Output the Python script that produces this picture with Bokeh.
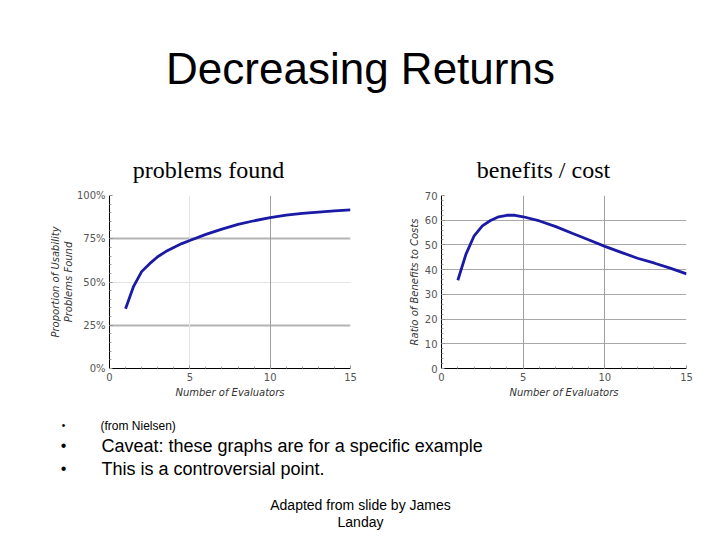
from bokeh.plotting import figure
from bokeh.layouts import column, row
from bokeh.models import Range1d, FixedTicker, Grid, Label
from bokeh.embed import file_html
from bokeh.resources import INLINE

# slide texts
title_text = "Decreasing Returns"
subtitles = ["problems found", "benefits / cost"]
small_note = "(from Nielsen)"
bullets = ["Caveat: these  graphs are for a specific example",
           "This is a controversial point."]
footer = ["Adapted from slide by James", "Landay"]

# chart data
evaluators = [1, 1.5, 2, 2.5, 3, 3.5, 4, 4.5, 5, 6, 7, 8, 9, 10, 11, 12, 13, 14, 15]
found_pct = [34.5, 47.5, 56, 60.6, 64.6, 67.6, 70, 72.2, 74, 77.5, 80.6, 83.3,
             85.4, 87.2, 88.6, 89.7, 90.4, 91.1, 91.7]
benefit_ratio = [35.7, 46.3, 53.7, 57.7, 59.9, 61.4, 62.0, 62.0, 61.4, 59.7,
                 57.4, 54.7, 52.1, 49.4, 47.0, 44.6, 42.7, 40.6, 38.3]

x_ticks = [0, 5, 10, 15]
pct_ticks = [0, 25, 50, 75, 100]
pct_labels = ["0%", "25%", "50%", "75%", "100%"]
ratio_ticks = [0, 10, 20, 30, 40, 50, 60, 70]

LINE = "#1a1aa4"
TICKFONT = "DejaVu Sans"


def text_panel(w, h, top, bottom):
    # pixel-like coordinates so slide text lines up with the reference
    p = figure(width=w, height=h, output_backend="svg", toolbar_location=None,
               x_range=Range1d(0, w), y_range=Range1d(bottom, top),
               min_border=0, outline_line_color=None)
    p.axis.visible = False
    p.grid.visible = False
    return p


def add_text(p, x, y, s, size, font="Liberation Sans", align="left"):
    p.add_layout(Label(x=x, y=y, text=s, text_font=font, text_font_size=size,
                       text_align=align, text_baseline="middle",
                       text_color="black"))


def style_chart(p, ylabel, ystandoff):
    p.xgrid.visible = False
    p.ygrid.visible = False
    p.outline_line_color = None
    for ax in (p.xaxis[0], p.yaxis[0]):
        ax.axis_line_color = "black"
        ax.major_tick_out = 0
        ax.major_tick_in = 3
        ax.major_tick_line_color = "#808080"
        ax.minor_tick_out = 0
        ax.minor_tick_in = 2
        ax.minor_tick_line_color = "#a0a0a0"
        ax.major_label_text_font = TICKFONT
        ax.major_label_text_font_size = "10px"
        ax.major_label_text_color = "#555555"
        ax.axis_label_text_font = TICKFONT
        ax.axis_label_text_font_size = "10px"
        ax.axis_label_text_font_style = "italic"
        ax.axis_label_text_color = "#333333"
        ax.major_label_standoff = 4
        ax.axis_label_standoff = 3
    p.yaxis.axis_label_standoff = ystandoff
    p.xaxis.axis_label = "Number of Evaluators"
    p.yaxis.axis_label = ylabel


# header
head = text_panel(712, 184, 0, 184)
add_text(head, 360, 68, title_text, "44px", align="center")
for cx, s in zip([208, 543], subtitles):
    add_text(head, cx, 169, s, "24px", font="Liberation Serif", align="center")

# left chart
left = figure(width=380, height=218, output_backend="svg", toolbar_location=None,
              x_range=Range1d(0, 15), y_range=Range1d(0, 100),
              min_border_left=109, min_border_right=30,
              min_border_top=11, min_border_bottom=34)
style_chart(left, "Proportion of Usability\nProblems Found", 0)
left.xaxis.ticker = FixedTicker(ticks=x_ticks, minor_ticks=list(range(16)))
left.yaxis.ticker = FixedTicker(ticks=pct_ticks, minor_ticks=list(range(0, 101, 5)))
left.yaxis.major_label_overrides = dict(zip(pct_ticks, pct_labels))
left.add_layout(Grid(dimension=1, ticker=FixedTicker(ticks=[50, 100]),
                     grid_line_color="#e4e4e4", grid_line_width=1))
left.add_layout(Grid(dimension=1, ticker=FixedTicker(ticks=[25, 75]),
                     grid_line_color="#b4b4b4", grid_line_width=2))
left.add_layout(Grid(dimension=0, ticker=FixedTicker(ticks=[5, 15]),
                     grid_line_color="#e4e4e4", grid_line_width=1))
left.add_layout(Grid(dimension=0, ticker=FixedTicker(ticks=[10]),
                     grid_line_color="#a0a0a0", grid_line_width=1))
left.line(evaluators, found_pct, line_color=LINE, line_width=2.8)

# right chart
right = figure(width=332, height=218, output_backend="svg", toolbar_location=None,
               x_range=Range1d(0, 15), y_range=Range1d(0, 70),
               min_border_left=61, min_border_right=26,
               min_border_top=8, min_border_bottom=34)
style_chart(right, "Ratio of Benefits to Costs", 2)
right.xaxis.ticker = FixedTicker(ticks=x_ticks, minor_ticks=list(range(16)))
right.yaxis.ticker = FixedTicker(ticks=ratio_ticks, minor_ticks=list(range(0, 71, 2)))
right.add_layout(Grid(dimension=1, ticker=FixedTicker(ticks=ratio_ticks[1:-1]),
                      grid_line_color="#a8a8a8", grid_line_width=1))
right.add_layout(Grid(dimension=0, ticker=FixedTicker(ticks=[5, 10]),
                      grid_line_color="#a0a0a0", grid_line_width=1))
right.line(evaluators, benefit_ratio, line_color=LINE, line_width=2.8)

# bottom text
foot = text_panel(712, 132, 402, 534)
add_text(foot, 63, 425, "\u2022", "10px", align="center")
add_text(foot, 100, 425, small_note, "12px")
for yy, s in zip([445, 468], bullets):
    add_text(foot, 63, yy, "\u2022", "16px", align="center")
    add_text(foot, 101, yy, s, "18px")
for yy, s in zip([504, 521], footer):
    add_text(foot, 360, yy, s, "14px", align="center")

page = column(head, row(left, right), foot)
open("out.html", "w").write(file_html(page, INLINE))
